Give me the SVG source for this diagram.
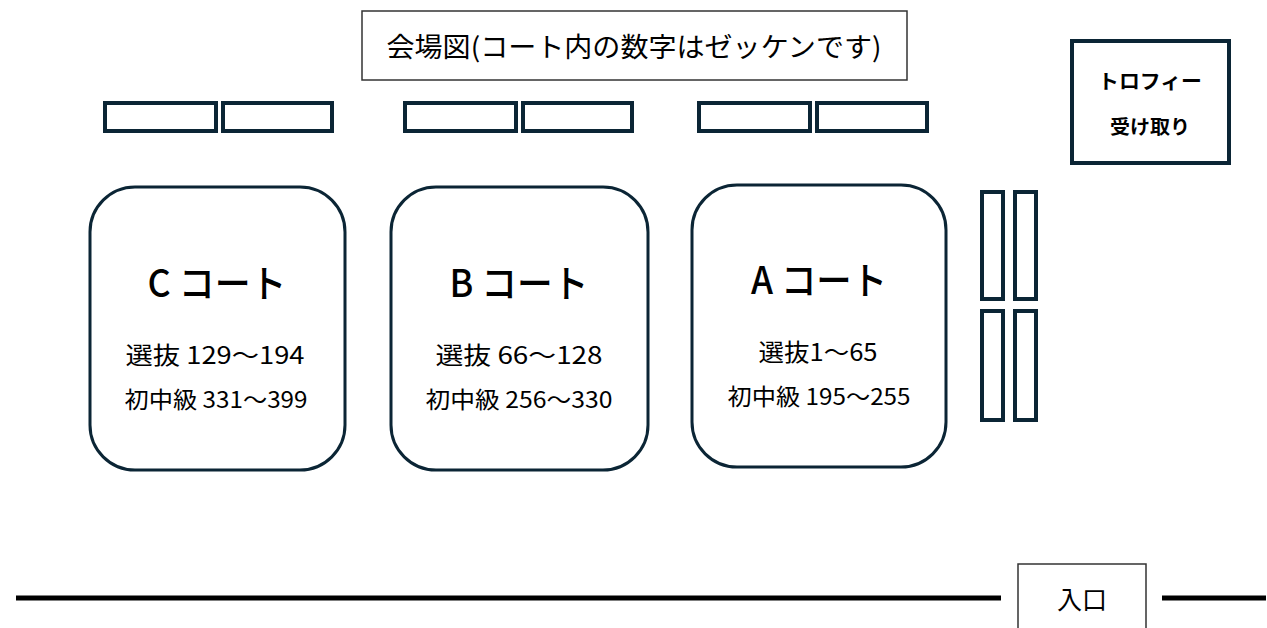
<svg xmlns="http://www.w3.org/2000/svg" width="1267" height="628" viewBox="0 0 1267 628">
<style>
.bench{fill:#fff;stroke:#0b2535;stroke-width:4}
.court{fill:#fff;stroke:#0b2535;stroke-width:3}
.t{font-family:"Noto Sans CJK JP","Noto Sans",sans-serif;fill:#000;text-anchor:middle}
.h{font-size:38px;font-weight:500}
.s{font-size:24px}
.s2{font-size:23px}
</style>
<rect width="1267" height="628" fill="#fff"/>
<g id="title">
<rect x="362" y="11" width="545" height="69" fill="#fff" stroke="#333" stroke-width="1.5"/>
<text class="t" x="634" y="57" font-size="27" textLength="495" lengthAdjust="spacingAndGlyphs">会場図(コート内の数字はゼッケンです)</text>
</g>
<g id="trophy">
<rect x="1072" y="41" width="157" height="122" fill="#fff" stroke="#0b2535" stroke-width="4"/>
<text class="t" x="1150" y="89" font-size="20" font-weight="bold" textLength="104" lengthAdjust="spacingAndGlyphs">トロフィー</text>
<text class="t" x="1150" y="134" font-size="19" font-weight="bold" textLength="80" lengthAdjust="spacingAndGlyphs">受け取り</text>
</g>
<g id="benches-c">
<rect class="bench" x="105" y="103" width="111" height="28"/>
<rect class="bench" x="223" y="103" width="109" height="28"/>
</g>
<g id="benches-b">
<rect class="bench" x="405" y="103" width="111" height="28"/>
<rect class="bench" x="523" y="103" width="109" height="28"/>
</g>
<g id="benches-a">
<rect class="bench" x="699" y="103" width="111" height="28"/>
<rect class="bench" x="817" y="103" width="110" height="28"/>
</g>
<g id="benches-side">
<rect class="bench" x="982" y="192" width="21" height="107"/>
<rect class="bench" x="1015" y="192" width="21" height="107"/>
<rect class="bench" x="982" y="311" width="21" height="109"/>
<rect class="bench" x="1015" y="311" width="21" height="109"/>
</g>
<g id="court-c">
<rect class="court" x="90" y="187" width="255" height="283" rx="45"/>
<text class="t h" x="217" y="297" textLength="139" lengthAdjust="spacingAndGlyphs">C コート</text>
<text class="t s" x="215" y="364" textLength="179" lengthAdjust="spacingAndGlyphs">選抜 129～194</text>
<text class="t s2" x="216" y="408" textLength="183" lengthAdjust="spacingAndGlyphs">初中級 331～399</text>
</g>
<g id="court-b">
<rect class="court" x="391" y="187" width="257" height="283" rx="45"/>
<text class="t h" x="519" y="297" textLength="139" lengthAdjust="spacingAndGlyphs">B コート</text>
<text class="t s" x="519" y="364" textLength="167" lengthAdjust="spacingAndGlyphs">選抜 66～128</text>
<text class="t s2" x="519" y="408" textLength="187" lengthAdjust="spacingAndGlyphs">初中級 256～330</text>
</g>
<g id="court-a">
<rect class="court" x="692" y="185" width="254" height="282" rx="45"/>
<text class="t h" x="819" y="294" textLength="136" lengthAdjust="spacingAndGlyphs">A コート</text>
<text class="t s" x="818" y="361" textLength="119" lengthAdjust="spacingAndGlyphs">選抜1～65</text>
<text class="t s2" x="819" y="405" textLength="183" lengthAdjust="spacingAndGlyphs">初中級 195～255</text>
</g>
<g id="connectors">
<line x1="16" y1="598" x2="1001" y2="598" stroke="#000" stroke-width="5"/>
<line x1="1162" y1="598" x2="1266" y2="598" stroke="#000" stroke-width="5"/>
</g>
<g id="entrance">
<path d="M1018 632 V564 H1146 V632" fill="#fff" stroke="#333" stroke-width="1.5"/>
<text class="t" x="1082" y="609" font-size="25">入口</text>
</g>
</svg>
